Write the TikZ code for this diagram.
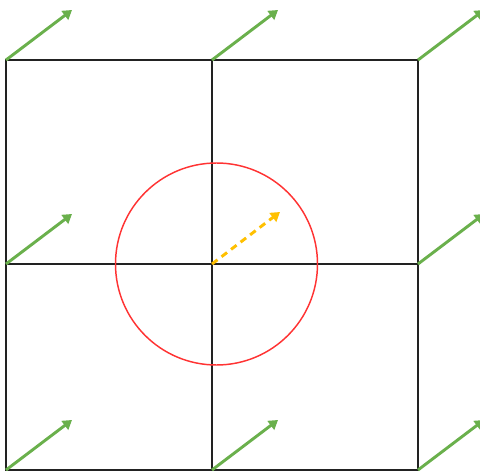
\documentclass[tikz,border=0pt]{standalone}
\usetikzlibrary{arrows.meta}
\definecolor{gridc}{HTML}{222222}
\definecolor{vecgreen}{HTML}{6AB04C}
\definecolor{circred}{HTML}{FF3333}
\definecolor{vecorange}{HTML}{FFC000}
\tikzset{
  gridline/.style={draw=gridc, line width=1.1pt},
  vecarrow/.style={draw=vecgreen, line width=2.2pt, -{Triangle[length=6.8pt,width=8.2pt]}},
  circline/.style={draw=circred, line width=1.1pt},
  orangearrow/.style={draw=vecorange, line width=2.2pt, dash pattern=on 5.2pt off 3.8pt, -{Triangle[length=6.8pt,width=8.2pt]}},
}
\begin{document}
\begin{tikzpicture}[x=0.75pt,y=-0.75pt]
\useasboundingbox (0,0) rectangle (480,475);
% grid points
\coordinate (p00) at (6,60);
\coordinate (p10) at (212,60);
\coordinate (p20) at (418,60);
\coordinate (p01) at (6,264);
\coordinate (p11) at (212,264);
\coordinate (p21) at (418,264);
\coordinate (p02) at (6,470);
\coordinate (p12) at (212,470);
\coordinate (p22) at (418,470);
\coordinate (cc) at (216.5,264);
% grid
\draw[gridline] (p00) rectangle (p22);
\draw[gridline] (p10) -- (p12);
\draw[gridline] (p01) -- (p21);
% circle
\draw[circline] (cc) circle (101);
% green vectors
\foreach \p in {p00,p10,p20,p01,p21,p02,p12,p22}{
  \draw[vecarrow] (\p) -- ++(66,-50);
}
% orange vector
\draw[orangearrow] (p11) -- ++(68,-52);
\end{tikzpicture}
\end{document}
